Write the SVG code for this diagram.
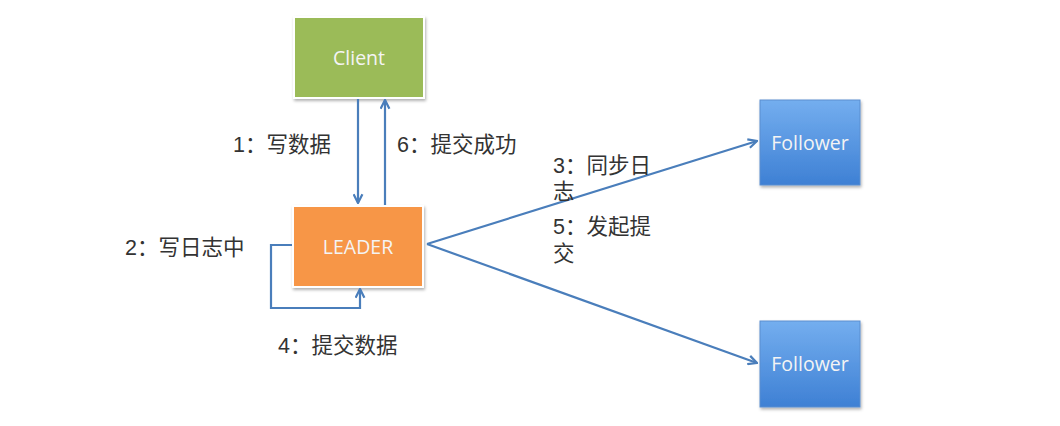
<svg xmlns="http://www.w3.org/2000/svg" width="1060" height="426" viewBox="0 0 1060 426">
<defs>
<linearGradient id="blueg" x1="0" y1="0" x2="0" y2="1">
<stop offset="0" stop-color="#74AEEF"/>
<stop offset="1" stop-color="#3E80D4"/>
</linearGradient>
<filter id="sh" x="-10%" y="-10%" width="130%" height="130%">
<feDropShadow dx="1" dy="2" stdDeviation="1.5" flood-color="#000" flood-opacity="0.3"/>
</filter>
<marker id="ah" viewBox="0 0 10 10" refX="9" refY="5" markerWidth="5" markerHeight="5" orient="auto" markerUnits="strokeWidth">
<path d="M1,1 L9,5 L1,9" fill="none" stroke="#4A7EBB" stroke-width="2" stroke-linejoin="miter"/>
</marker>
<style>
.lbl{font-family:"Liberation Sans","Noto Sans CJK SC",sans-serif;font-size:21.5px;fill:#333}
.nt{font-family:"Open Sans","Liberation Sans",sans-serif;font-size:19.5px;fill:#F4F4F4;text-anchor:middle;dominant-baseline:central}
.cn{fill:none;stroke:#4A7EBB;stroke-width:2.2}
</style>
</defs>
<rect width="1060" height="426" fill="#fff"/>
<g id="client">
<rect x="294" y="17" width="130" height="81" fill="#9BBB59" stroke="#fff" stroke-width="2" filter="url(#sh)"/>
<text class="nt" x="359" y="57">Client</text>
</g>
<g id="leader">
<rect x="293" y="206" width="130" height="81" fill="#F79646" stroke="#fff" stroke-width="2" filter="url(#sh)"/>
<text class="nt" x="358" y="246">LEADER</text>
</g>
<g id="follower1">
<rect x="760" y="100" width="100" height="85" fill="url(#blueg)" stroke="#5A8ED0" stroke-width="1" filter="url(#sh)"/>
<text class="nt" x="810" y="142">Follower</text>
</g>
<g id="follower2">
<rect x="760" y="321" width="100" height="86" fill="url(#blueg)" stroke="#5A8ED0" stroke-width="1" filter="url(#sh)"/>
<text class="nt" x="810" y="363">Follower</text>
</g>
<g id="connectors">
<line class="cn" x1="358" y1="99" x2="358" y2="203" marker-end="url(#ah)"/>
<line class="cn" x1="385" y1="205" x2="385" y2="100" marker-end="url(#ah)"/>
<polyline class="cn" points="292,245 271,245 271,308 360,308 360,289" marker-end="url(#ah)"/>
<line class="cn" x1="427" y1="244" x2="757" y2="141" marker-end="url(#ah)"/>
<line class="cn" x1="427" y1="244" x2="757" y2="363" marker-end="url(#ah)"/>
</g>
<g id="labels">
<text class="lbl" x="233" y="152">1：写数据</text>
<text class="lbl" x="397" y="152">6：提交成功</text>
<text class="lbl" x="125" y="255">2：写日志中</text>
<text class="lbl" x="278" y="353">4：提交数据</text>
<text class="lbl" x="553" y="173">3：同步日</text>
<text class="lbl" x="553" y="199">志</text>
<text class="lbl" x="553" y="234">5：发起提</text>
<text class="lbl" x="553" y="261">交</text>
</g>
</svg>
